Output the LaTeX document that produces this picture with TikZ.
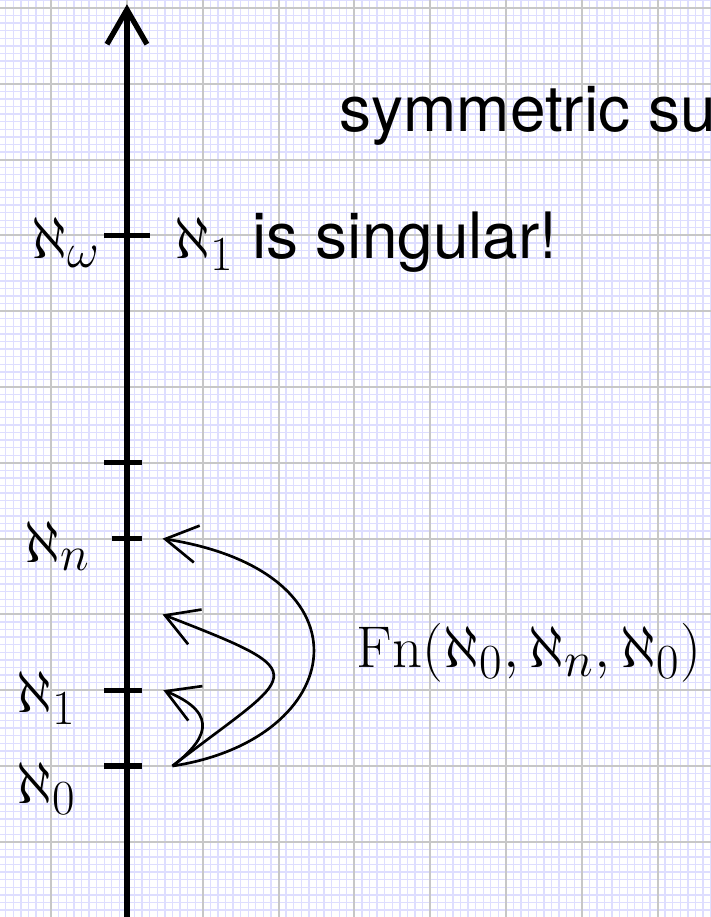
\RequirePackage{fix-cm}
\documentclass[tikz,border=0pt]{standalone}
\usepackage{fontspec}
\setsansfont{TeX Gyre Heros}
\usetikzlibrary{arrows.meta}
\DeclareMathSizes{22.1}{22.1}{18.4}{14.6}
\newcommand\mathsz{\fontsize{22.1}{26.5}\selectfont}
\newcommand\sanssz{\fontsize{24}{28}\selectfont\sffamily}
\begin{document}
\begin{tikzpicture}[
  minorgrid/.style={draw=blue!13, line width=0.5pt},
  majorgrid/.style={draw=black!22, line width=0.75pt},
  axisline/.style={line width=2pt, -{Straight Barb[length=13pt,width=15pt]}},
  tickmark/.style={line width=2pt},
  jump/.style={line width=1pt, -{Straight Barb[length=12pt,width=14pt]}},
  lab/.style={inner sep=0pt, font=\mathsz},
  ]
\useasboundingbox (-1.675,-1.992) rectangle (7.704,10.106);
\draw[minorgrid] (-2,-3) grid[step=0.1] (8,11);
\draw[majorgrid] (-2,-3) grid[step=1] (8,11);
% axis
\coordinate (bot) at (0,-2.1);
\coordinate (top) at (0,10.05);
\draw[axisline] (bot) -- (top);
% ticks
\draw[tickmark] (-0.3,7) -- (0.3,7);
\draw[tickmark] (-0.3,4) -- (0.2,4);
\draw[tickmark] (-0.2,3) -- (0.2,3);
\draw[tickmark] (-0.3,1) -- (0.2,1);
\draw[tickmark] (-0.3,0) -- (0.2,0);
% labels
\node[lab, anchor=base west] (aw) at (-1.26,6.70) {$\aleph_\omega$};
\node[lab, anchor=base west] (an) at (-1.36,2.69) {$\aleph_n$};
\node[lab, anchor=base west] (a1) at (-1.46,0.70) {$\aleph_1$};
\node[lab, anchor=base west] (a0) at (-1.46,-0.49) {$\aleph_0$};
\node[lab, anchor=base west] (sing) at (0.62,6.69) {$\aleph_1$\sanssz{} is singular!};
\node[lab, anchor=base west] (sym) at (2.80,8.37) {\sanssz symmetric su};
\node[lab, anchor=base east] (fn) at (7.585,1.30) {$\mathrm{Fn}(\aleph_0,\aleph_n,\aleph_0)$};
% forcing arrows
\coordinate (s) at (0.6,0);
\coordinate (tn) at (0.47,3);
\coordinate (tm) at (0.47,2);
\coordinate (t1) at (0.48,1);
\draw[jump] (s) .. controls (2.9,0.35) and (3.3,2.55) .. (tn);
\draw[jump] (s) .. controls (2.23,1.26) and (2.56,1.19) .. (tm);
\draw[jump] (s) .. controls (1.02,0.32) and (1.26,0.68) .. (t1);
\end{tikzpicture}
\end{document}
